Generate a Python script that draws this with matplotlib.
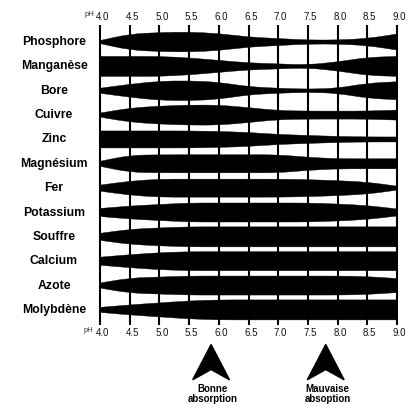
import matplotlib
matplotlib.use("Agg")
import matplotlib.pyplot as plt
from matplotlib.patches import Polygon, PathPatch
from matplotlib.path import Path
import numpy as np

plt.rcParams['font.family'] = ['Liberation Sans', 'DejaVu Sans']

# pH scale
ph = [4.0, 4.5, 5.0, 5.5, 6.0, 6.5, 7.0, 7.5, 8.0, 8.5, 9.0]
ph_labels = ["4.0", "4.5", "5.0", "5.5", "6.0", "6.5", "7.0", "7.5", "8.0", "8.5", "9.0"]

elements = ["Phosphore", "Manganèse", "Bore", "Cuivre", "Zinc", "Magnésium",
            "Fer", "Potassium", "Souffre", "Calcium", "Azote", "Molybdène"]

# relative absorption band thickness at each pH (max ~20)
phosphore = [3, 16, 19, 20, 17, 10, 7, 4, 4, 7, 16]
manganese = [20, 20, 20, 17, 12, 7, 5, 3, 9, 18, 20]
bore      = [5, 13, 19, 20, 17, 8, 5, 3, 5, 15, 18]
cuivre    = [4, 14, 18, 20, 20, 15, 9, 8, 8, 8, 10]
zinc      = [17, 17, 17, 17, 16, 14, 10, 8, 6, 5, 5]
magnesium = [5, 17, 18, 18, 18, 18, 18, 13, 10, 10, 10]
fer       = [6, 14, 18, 18, 18, 18, 18, 17, 15, 12, 4]
potassium = [8, 13, 16, 19, 19, 19, 19, 19, 17, 14, 7]
souffre   = [7, 15, 18, 20, 20, 20, 20, 20, 20, 20, 20]
calcium   = [8, 13, 17, 19, 19, 19, 19, 19, 19, 19, 19]
azote     = [5, 15, 17, 19, 19, 19, 19, 19, 19, 18, 14]
molybdene = [5, 10, 14, 18, 20, 20, 20, 20, 20, 20, 20]

bands = [phosphore, manganese, bore, cuivre, zinc, magnesium,
         fer, potassium, souffre, calcium, azote, molybdene]

# annotation arrows
arrow_ph = [5.87, 7.80]
arrow_text = ["Bonne\nabsorption", "Mauvaise\nabsoption"]

W, H = 413, 405
fig = plt.figure(figsize=(W / 100, H / 100), dpi=100)
fig.patch.set_facecolor("white")
ax = fig.add_axes([100 / W, 1 - 325 / H, 297 / W, 300 / H])
pitch = 24.36  # px per row
ax.set_xlim(4.0, 9.0)
ax.set_ylim(11.62, -0.70)
ax.axis("off")

# vertical grid lines
for p in ph:
    ax.plot([p, p], [-0.70, 11.62], color="black", lw=1.5, zorder=1,
            solid_capstyle="butt", clip_on=False)


def smooth_edge(xs, ys):
    """Quadratic-Bezier path pieces through midpoints, using the data points as controls."""
    verts = [(xs[0], ys[0])]
    codes = []
    mids = [((xs[k] + xs[k + 1]) / 2, (ys[k] + ys[k + 1]) / 2) for k in range(len(xs) - 1)]
    verts.append(mids[0])
    codes.append(Path.LINETO)
    for k in range(1, len(xs) - 1):
        verts.append((xs[k], ys[k]))
        verts.append(mids[k])
        codes += [Path.CURVE3, Path.CURVE3]
    verts.append((xs[-1], ys[-1]))
    codes.append(Path.LINETO)
    return verts, codes


# bands
scale = 1.0 / pitch
for i, vals in enumerate(bands):
    t = np.array(vals, dtype=float) * scale
    top = list(i - t / 2)
    bot = list(i + t / 2)
    v1, c1 = smooth_edge(ph, top)
    v2, c2 = smooth_edge(ph[::-1], bot[::-1])
    verts = v1 + v2 + [v1[0]]
    codes = [Path.MOVETO] + c1 + [Path.LINETO] + c2[:] + [Path.CLOSEPOLY]
    # v2 starts with a point that needs LINETO; c2 covers v2[1:]
    codes = [Path.MOVETO] + c1 + [Path.LINETO] + c2 + [Path.CLOSEPOLY]
    path = Path(verts, codes)
    ax.add_patch(PathPatch(path, facecolor="black", edgecolor="black",
                           lw=0.3, zorder=2))

# element labels
for i, name in enumerate(elements):
    ax.annotate(name, xy=(0, i), xycoords=("figure pixels", "data"),
                xytext=(54, 0), textcoords=("figure pixels", "offset points"),
                ha="center", va="center", fontsize=8.8, fontweight="bold")

# tick labels top and bottom
for p, lab in zip(ph, ph_labels):
    ax.text(p + 0.04, -0.83, lab, ha="center", va="bottom", fontsize=7,
            color="#111111")
    ax.text(p + 0.04, 11.75, lab, ha="center", va="top", fontsize=7,
            color="#111111")
ax.text(3.90, -1.0, "pH", ha="right", va="bottom", fontsize=5.5, color="#333333")
ax.text(3.88, 12.0, "pH", ha="right", va="bottom", fontsize=5.5, color="#333333")

# arrows
for xa, txt in zip(arrow_ph, arrow_text):
    half = 0.31
    poly = Polygon([[xa, 12.42], [xa + half, 13.87], [xa, 13.45],
                    [xa - half, 13.87]], closed=True, color="black",
                   clip_on=False, zorder=3)
    ax.add_patch(poly)
    ax.text(xa + 0.03, 14.05, txt, ha="center", va="top", fontsize=7,
            fontweight="bold", linespacing=1.0, clip_on=False)

fig.savefig("out.png", dpi=100, facecolor="white")
